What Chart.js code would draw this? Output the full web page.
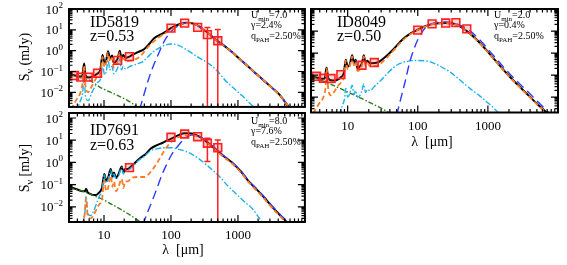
<!DOCTYPE html>
<html>
<head>
<meta charset="utf-8">
<script src="https://cdn.jsdelivr.net/npm/chart.js@4.4.1/dist/chart.umd.min.js"></script>
<style>
  body { margin: 0; background: #fff; width: 567px; height: 265px; position: relative; overflow: hidden; }
  canvas { position: absolute; }
</style>
</head>
<body>
<canvas id="c1" width="312" height="114" style="left:0;top:0"></canvas>
<canvas id="c2" width="267" height="150" style="left:300px;top:0"></canvas>
<canvas id="c3" width="312" height="161" style="left:0;top:104px"></canvas>
<script>
// tick labels
const yTickValues = [0.01, 0.1, 1, 10, 100];
const yTickExps = ['\u22122', '\u22121', '0', '1', '2'];
const xTickValues = [10, 100, 1000];
const xTickLabels = ['10', '100', '1000'];

// ---- ID5819 : [lambda (um), S (mJy)] ----
const p1Total = [[3,0.075],[3.6,0.066],[4.2,0.058],[4.7,0.06],[5.05,0.24],[5.3,0.065],[5.8,0.052],[6.6,0.055],[7.4,0.068],[8.0,0.08],[8.8,0.12],[9.5,0.62],[10.2,0.26],[10.8,0.35],[11.5,0.95],[12.3,0.42],[13.2,0.58],[13.9,0.26],[15,0.3],[16,0.42],[17.2,1.0],[18.2,0.45],[19.4,0.62],[21,0.46],[24,0.52],[27,0.65],[32,0.85],[40,1.2],[48,2.2],[56,3.9],[70,6],[83,8],[100,12],[130,18],[170,22],[220,19.5],[270,14],[350,7.5],[470,3.3],[600,1.9],[830,0.81],[1100,0.36],[1450,0.165],[2000,0.065],[2500,0.034],[3300,0.0155],[4200,0.0075],[5500,0.0024],[6500,0.0013]];
const p1Cold = [[34,0.0015],[40,0.009],[47,0.05],[55,0.2],[63,0.55],[74,1.8],[84,3.9],[103,9],[130,16],[170,21],[220,19],[270,13.8],[350,7.3],[470,3.2],[600,1.85],[830,0.8],[1100,0.355],[1450,0.163],[2000,0.064],[2500,0.034],[3300,0.0153],[4200,0.0074],[5500,0.0024],[6500,0.0013]];
const p1Diffuse = [[3.2,0.0015],[3.8,0.004],[4.4,0.009],[4.8,0.03],[5.05,0.2],[5.3,0.02],[5.8,0.01],[6.6,0.02],[7.4,0.04],[8.0,0.06],[8.8,0.08],[9.5,0.5],[10.2,0.16],[10.8,0.25],[11.5,0.8],[12.3,0.3],[13.2,0.45],[13.9,0.15],[15,0.2],[16,0.3],[17.2,0.8],[18.2,0.3],[19.4,0.45],[21,0.3],[24,0.32],[30,0.4],[34,0.5],[40,0.9],[47,1.7],[63,3.9],[91,8.4],[130,16],[170,21],[220,19],[270,13.8],[350,7.3],[470,3.2],[600,1.85],[830,0.8],[1100,0.355],[1450,0.163],[2000,0.064],[2500,0.034],[3300,0.0153],[4200,0.0074],[5500,0.0024],[6500,0.0013]];
const p1Pdr = [[3.8,0.001],[4.3,0.003],[4.8,0.01],[5.05,0.05],[5.3,0.006],[5.8,0.004],[6.6,0.01],[7.4,0.02],[8.0,0.03],[8.8,0.04],[9.5,0.2],[10.2,0.07],[10.8,0.1],[11.5,0.35],[12.3,0.12],[13.2,0.18],[13.9,0.08],[15,0.1],[16,0.15],[17.2,0.4],[18.2,0.12],[19.4,0.18],[21,0.13],[24,0.17],[30,0.22],[38,0.3],[45,0.5],[55,0.9],[65,1.3],[80,1.8],[100,2.1],[130,1.8],[175,1.05],[250,0.5],[380,0.22],[500,0.1],[660,0.035],[900,0.014],[1160,0.0068],[1500,0.003],[1800,0.0018]];
const p1Stars = [[3,0.075],[4,0.055],[5.8,0.041],[8.9,0.017],[15.6,0.0073],[24,0.0036],[30,0.0022],[36,0.0014]];
const p1ObsWave = [3.6, 4.5, 5.8, 8.0, 16, 24, 100, 160, 250, 350, 500];
const p1ObsFlux = [0.064, 0.054, 0.054, 0.083, 0.34, 0.52, 12, 21, 13.2, 5.9, 3.0];
const p1ObsLo = [null, null, null, null, null, null, null, null, null, 0.0001, 0.0001];
const p1ObsHi = [null, null, null, null, null, null, null, null, null, 13, 10.5];

// ---- ID8049 ----
const p2Total = [[3,0.088],[3.6,0.078],[4.2,0.068],[4.7,0.07],[5.0,0.22],[5.3,0.07],[5.8,0.058],[6.6,0.056],[7.4,0.065],[8.0,0.08],[8.8,0.12],[9.4,0.5],[10.0,0.24],[10.7,0.3],[11.6,0.8],[12.3,0.35],[13.0,0.5],[13.8,0.2],[15,0.25],[16,0.35],[17,0.8],[18,0.35],[19,0.45],[21,0.34],[24,0.35],[28,0.4],[35,0.7],[45,1.5],[60,4],[80,8],[100,11.5],[130,17],[170,21.5],[250,23],[350,20],[552,7.8],[800,2.5],[1186,0.6],[1600,0.2],[2050,0.084],[2700,0.035],[3550,0.0146],[5000,0.005],[6820,0.002],[8000,0.0011]];
const p2Cold = [[50,0.0015],[58,0.01],[66,0.05],[77,0.4],[90,1.8],[100,4],[115,9],[133,16],[170,23],[250,26],[350,22],[552,10.5],[800,3.4],[1186,0.81],[1600,0.27],[2050,0.113],[2700,0.047],[3550,0.02],[5000,0.0068],[6820,0.0026],[8000,0.0015]];
const p2Diffuse = [[3.2,0.0018],[3.9,0.005],[4.6,0.012],[4.85,0.03],[5.0,0.2],[5.3,0.022],[5.8,0.012],[6.6,0.02],[7.4,0.035],[8.0,0.045],[8.8,0.08],[9.4,0.45],[10.0,0.18],[10.7,0.24],[11.6,0.7],[12.3,0.28],[13.0,0.42],[13.8,0.15],[15,0.18],[16,0.28],[17,0.7],[18,0.26],[19,0.36],[21,0.25],[24,0.26],[28,0.3],[35,0.55],[45,1.3],[60,3.6],[80,7.5],[100,11],[130,16.5],[170,21],[250,22.5],[350,19.5],[552,7.6],[800,2.4],[1186,0.58],[1600,0.19],[2050,0.08],[2700,0.033],[3550,0.014],[5000,0.0048],[6820,0.0019],[8000,0.0011]];
const p2Pdr = [[7.6,0.0015],[8.4,0.004],[9.0,0.008],[9.4,0.025],[10.0,0.01],[10.7,0.014],[11.6,0.035],[12.3,0.013],[13.0,0.02],[13.8,0.01],[15,0.012],[16,0.02],[17,0.04],[18,0.016],[19,0.022],[21,0.02],[24,0.03],[30,0.06],[36,0.11],[45,0.22],[55,0.33],[70,0.42],[100,0.46],[150,0.4],[200,0.27],[286,0.14],[400,0.06],[552,0.025],[750,0.012],[955,0.0062],[1200,0.0033],[1400,0.002]];
const p2Stars = [[3,0.088],[4,0.062],[6,0.036],[10,0.017],[16,0.0085],[25,0.0042],[36,0.0023],[42,0.0017]];
const p2ObsWave = [3.6, 4.5, 5.8, 8.0, 16, 24, 100, 160, 250, 350, 500];
const p2ObsFlux = [0.088, 0.072, 0.07, 0.105, 0.28, 0.37, 11, 21, 23, 24, 12.5];
const p2ObsLo = [null, null, null, null, null, null, null, null, null, null, null];
const p2ObsHi = [null, null, null, null, null, null, null, null, null, null, null];

// ---- ID7691 ----
const p3Total = [[3,0.08],[4,0.06],[4.8,0.05],[5.2,0.05],[5.4,0.065],[5.7,0.045],[6.3,0.038],[6.9,0.034],[7.6,0.034],[8.5,0.045],[9.3,0.07],[10.1,0.3],[10.8,0.15],[11.5,0.2],[12.6,0.5],[13.4,0.22],[14.0,0.35],[15.2,0.2],[16.5,0.3],[18.4,0.66],[19.5,0.35],[20.7,0.5],[22.5,0.5],[26,0.7],[34,1.5],[42,2.4],[50,4.2],[62,6],[74,7.5],[90,10],[103,12],[130,17],[160,20.5],[200,20],[270,14],[350,8],[470,3.8],[600,2],[830,0.95],[1100,0.4],[1450,0.14],[2000,0.052],[2500,0.025],[3300,0.0095],[4400,0.0038],[5300,0.0021],[6500,0.0009]];
const p3Cold = [[38,0.0015],[45,0.006],[53,0.02],[63,0.08],[74,0.3],[88,0.9],[100,2.0],[124,5],[160,12],[200,17],[270,14.5],[350,8.4],[470,4.0],[600,2.1],[830,1.0],[1100,0.42],[1450,0.15],[2000,0.056],[2500,0.027],[3300,0.0103],[4400,0.0041],[5300,0.0023],[6500,0.001]];
const p3Diffuse = [[4.6,0.0015],[5.1,0.004],[5.4,0.025],[5.7,0.004],[6.3,0.003],[6.9,0.004],[7.6,0.007],[8.5,0.013],[9.3,0.02],[10.1,0.15],[10.8,0.05],[11.5,0.07],[12.6,0.25],[13.4,0.08],[14.0,0.14],[15.2,0.05],[16.5,0.08],[18.4,0.18],[19.5,0.07],[20.7,0.14],[22.5,0.14],[26,0.2],[32,0.22],[40,0.22],[48,0.33],[56,0.6],[66,1.3],[78,3],[95,7],[110,10.5],[155,16],[200,17],[270,13],[350,7.6],[470,3.4],[600,1.8],[830,0.85],[1100,0.36],[1450,0.125],[2000,0.046],[2500,0.022],[3300,0.0085],[4400,0.0034],[5300,0.0019],[6500,0.0008]];
const p3Pdr = [[4.8,0.0015],[5.2,0.006],[5.4,0.03],[5.7,0.005],[6.3,0.004],[6.9,0.006],[7.6,0.012],[8.5,0.03],[9.3,0.05],[10.1,0.27],[10.8,0.12],[11.5,0.16],[12.6,0.45],[13.4,0.2],[14.0,0.3],[15.2,0.18],[16.5,0.25],[18.4,0.6],[19.5,0.3],[20.7,0.45],[22.5,0.45],[26,0.6],[32,1.15],[40,1.9],[50,3.4],[60,4.0],[80,4.6],[100,4.6],[130,3.9],[173,3.0],[250,1.6],[340,0.77],[530,0.23],[700,0.09],[925,0.04],[1250,0.017],[1620,0.0086],[2260,0.0022],[2600,0.0012]];
const p3Stars = [[3,0.075],[5,0.048],[7,0.032],[10,0.02],[13,0.013],[20,0.0062],[26,0.0038],[32,0.0025],[38,0.0017]];
const p3ObsWave = [24, 100, 160, 250, 350, 500];
const p3ObsFlux = [0.58, 13.5, 19, 14.4, 7.3, 4.6];
const p3ObsLo = [null, null, null, null, 1.1, 0.0001];
const p3ObsHi = [null, null, null, null, 12.2, 10.2];

const SERIF = 'Liberation Serif';
const RED = '#ff2020';

function curve(pts, color, width, dash, order) {
  return {
    data: pts.map(p => ({ x: p[0], y: p[1] })),
    borderColor: color, borderWidth: width, borderDash: dash,
    pointRadius: 0, fill: false, cubicInterpolationMode: 'monotone', order: order
  };
}

function fontFor(mode, size) {
  const s = mode === 'n' ? size : Math.round(size * 0.68);
  return s + 'px "' + SERIF + '"';
}

// parts: [text, 'n' normal | 'b' subscript | 'p' superscript]
function richText(ctx, parts, x, y, size, align) {
  const widths = parts.map(p => { ctx.font = fontFor(p[1], size); return ctx.measureText(p[0]).width; });
  const total = widths.reduce((a, b) => a + b, 0);
  let cx = align === 'center' ? x - total / 2 : align === 'right' ? x - total : x;
  ctx.textAlign = 'left';
  ctx.textBaseline = 'alphabetic';
  parts.forEach((p, i) => {
    ctx.font = fontFor(p[1], size);
    const dy = p[1] === 'b' ? size * 0.28 : p[1] === 'p' ? -size * 0.42 : 0;
    ctx.fillText(p[0], cx, y + dy);
    cx += widths[i];
  });
}

const sedDecor = {
  id: 'sedDecor',
  afterDatasetsDraw(chart, args, opts) {
    const { ctx, chartArea: a, scales: { x, y } } = chart;
    ctx.save();
    ctx.beginPath();
    ctx.rect(a.left, a.top, a.right - a.left, a.bottom - a.top);
    ctx.clip();
    ctx.strokeStyle = RED;
    ctx.lineWidth = 1.5;
    opts.wave.forEach((w, i) => {
      if (opts.lo[i] == null) return;
      const px = x.getPixelForValue(w);
      const y1 = y.getPixelForValue(opts.lo[i]);
      const y2 = y.getPixelForValue(opts.hi[i]);
      ctx.beginPath();
      ctx.moveTo(px, y1); ctx.lineTo(px, y2);
      ctx.moveTo(px - 3, y1); ctx.lineTo(px + 3, y1);
      ctx.moveTo(px - 3, y2); ctx.lineTo(px + 3, y2);
      ctx.stroke();
    });
    ctx.restore();
  },
  afterDraw(chart, args, opts) {
    const { ctx, chartArea: a, scales: { x, y } } = chart;
    ctx.save();
    ctx.strokeStyle = '#000';
    ctx.fillStyle = '#000';
    // inward ticks on all sides
    ctx.lineWidth = 1.2;
    ctx.beginPath();
    for (let e = 0; e <= 4; e++) {
      for (let m = 1; m <= 9; m++) {
        const v = m * Math.pow(10, e);
        if (v < x.min || v > x.max) continue;
        const px = x.getPixelForValue(v);
        const len = m === 1 ? 7 : 3.5;
        ctx.moveTo(px, a.bottom); ctx.lineTo(px, a.bottom - len);
        ctx.moveTo(px, a.top); ctx.lineTo(px, a.top + len);
      }
    }
    for (let e = -3; e <= 2; e++) {
      for (let m = 1; m <= 9; m++) {
        const v = m * Math.pow(10, e);
        if (v < y.min || v > y.max) continue;
        const py = y.getPixelForValue(v);
        const len = m === 1 ? 7 : 3.5;
        ctx.moveTo(a.left, py); ctx.lineTo(a.left + len, py);
        ctx.moveTo(a.right, py); ctx.lineTo(a.right - len, py);
      }
    }
    ctx.stroke();
    ctx.lineWidth = 2;
    ctx.strokeRect(a.left, a.top, a.right - a.left, a.bottom - a.top);

    // y tick labels with exponents
    if (opts.yLabels) {
      yTickValues.forEach((v, i) => {
        if (v < y.min || v > y.max) return;
        const py = y.getPixelForValue(v);
        richText(ctx, [['10', 'n'], [yTickExps[i], 'p']], a.left - 6, py + 4.5, 13, 'right');
      });
    }
    // annotations
    (opts.texts || []).forEach(t => {
      if (t.rotate) {
        ctx.save();
        ctx.translate(t.x, t.y);
        ctx.rotate(-Math.PI / 2);
        richText(ctx, t.parts, 0, 0, t.size, 'center');
        ctx.restore();
      } else {
        richText(ctx, t.parts, t.x, t.y, t.size, t.align || 'left');
      }
    });
    ctx.restore();
  }
};

function makePanel(id, p) {
  const datasets = [
    curve(p.total, '#000000', 2, [], 6),
    curve(p.stars, '#2b7a1c', 1.4, [5, 2, 1.5, 2], 5),
    curve(p.pdr, '#18b2ec', 1.4, [6, 2, 1.5, 2], 4),
    curve(p.cold, '#2b3bff', 1.4, [9, 5], 3),
    curve(p.diffuse, '#ff7a22', 1.8, [5, 3], 2),
    {
      data: p.obsWave.map((w, i) => ({ x: w, y: p.obsFlux[i] })),
      showLine: false, pointStyle: 'rect', pointRadius: 5.5,
      pointBorderColor: RED, pointBackgroundColor: 'rgba(255,60,60,0.22)', pointBorderWidth: 1.6,
      borderColor: RED, backgroundColor: 'rgba(255,60,60,0.22)', order: 0
    }
  ];
  return new Chart(document.getElementById(id), {
    type: 'line',
    data: { datasets: datasets },
    options: {
      responsive: false,
      animation: false,
      events: [],
      layout: { padding: p.pad },
      plugins: {
        legend: { display: false },
        tooltip: { enabled: false },
        sedDecor: { wave: p.obsWave, lo: p.obsLo, hi: p.obsHi, yLabels: p.yLabels, texts: p.texts }
      },
      scales: {
        x: {
          type: 'logarithmic', min: 3, max: 10000, position: 'bottom',
          grid: { display: false, drawTicks: false }, border: { display: false },
          afterBuildTicks: s => { s.ticks = xTickValues.map(v => ({ value: v })); },
          afterFit: s => { s.height = p.xh; },
          ticks: {
            display: p.xLabels, autoSkip: false, maxRotation: 0, padding: 6, color: '#000',
            font: { family: SERIF, size: 13 },
            callback: (v, i) => xTickLabels[i]
          }
        },
        y: {
          type: 'logarithmic', min: p.ymin, max: p.ymax,
          grid: { display: false, drawTicks: false }, border: { display: false },
          ticks: { display: false },
          afterFit: s => { s.width = p.yw; }
        }
      }
    },
    plugins: [sedDecor]
  });
}

makePanel('c1', {
  total: p1Total, cold: p1Cold, diffuse: p1Diffuse, pdr: p1Pdr, stars: p1Stars,
  obsWave: p1ObsWave, obsFlux: p1ObsFlux, obsLo: p1ObsLo, obsHi: p1ObsHi,
  ymin: 0.002, ymax: 100, yw: 69, xh: 1, xLabels: false, yLabels: true,
  pad: { left: 0, top: 9, right: 1, bottom: 0 },
  texts: [
    { parts: [['ID5819', 'n']], x: 90, y: 27, size: 16 },
    { parts: [['z=0.53', 'n']], x: 90, y: 41, size: 16 },
    { parts: [['U', 'n'], ['min', 'b'], ['=7.0', 'n']], x: 251, y: 18, size: 10 },
    { parts: [['\u03b3=2.4%', 'n']], x: 251, y: 28, size: 10 },
    { parts: [['q', 'n'], ['PAH', 'b'], ['=2.50%', 'n']], x: 251, y: 39, size: 10 },
    { parts: [['S', 'n'], ['\u03bd', 'b'], [' (mJy)', 'n']], x: 29, y: 57, size: 14, rotate: true }
  ]
});

makePanel('c2', {
  total: p2Total, cold: p2Cold, diffuse: p2Diffuse, pdr: p2Pdr, stars: p2Stars,
  obsWave: p2ObsWave, obsFlux: p2ObsFlux, obsLo: p2ObsLo, obsHi: p2ObsHi,
  ymin: 0.002, ymax: 100, yw: 11, xh: 37.5, xLabels: true, yLabels: false,
  pad: { left: 0, top: 9, right: 9, bottom: 0 },
  texts: [
    { parts: [['ID8049', 'n']], x: 37, y: 27, size: 16 },
    { parts: [['z=0.50', 'n']], x: 37, y: 41, size: 16 },
    { parts: [['U', 'n'], ['min', 'b'], ['=2.0', 'n']], x: 194, y: 18, size: 10 },
    { parts: [['\u03b3=0.4%', 'n']], x: 194, y: 28, size: 10 },
    { parts: [['q', 'n'], ['PAH', 'b'], ['=2.50%', 'n']], x: 194, y: 39, size: 10 },
    { parts: [['\u03bb  [\u03bcm]', 'n']], x: 132, y: 146, size: 14, align: 'center' }
  ]
});

makePanel('c3', {
  total: p3Total, cold: p3Cold, diffuse: p3Diffuse, pdr: p3Pdr, stars: p3Stars,
  obsWave: p3ObsWave, obsFlux: p3ObsFlux, obsLo: p3ObsLo, obsHi: p3ObsHi,
  ymin: 0.00207, ymax: 168, yw: 69, xh: 43, xLabels: true, yLabels: true,
  pad: { left: 0, top: 9, right: 1, bottom: 0 },
  texts: [
    { parts: [['ID7691', 'n']], x: 90, y: 31, size: 16 },
    { parts: [['z=0.63', 'n']], x: 90, y: 46, size: 16 },
    { parts: [['U', 'n'], ['min', 'b'], ['=8.0', 'n']], x: 251, y: 20, size: 10 },
    { parts: [['\u03b3=7.6%', 'n']], x: 251, y: 30, size: 10 },
    { parts: [['q', 'n'], ['PAH', 'b'], ['=2.50%', 'n']], x: 251, y: 41, size: 10 },
    { parts: [['S', 'n'], ['\u03bd', 'b'], [' [mJy]', 'n']], x: 29, y: 64, size: 14, rotate: true },
    { parts: [['\u03bb  [\u03bcm]', 'n']], x: 183, y: 150, size: 14, align: 'center' }
  ]
});
</script>
</body>
</html>
